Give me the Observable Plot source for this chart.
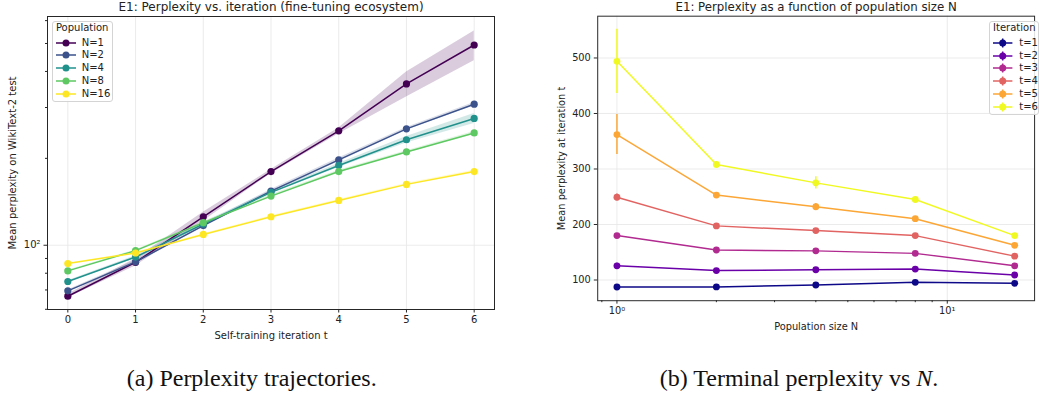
<!DOCTYPE html>
<html>
<head>
<meta charset="utf-8">
<script src="https://cdn.jsdelivr.net/npm/d3@7"></script>
<script src="https://cdn.jsdelivr.net/npm/@observablehq/plot@0.6"></script>
<style>
  html, body { margin: 0; padding: 0; background: #fff; }
  body { width: 1040px; height: 398px; overflow: hidden; position: relative; font-family: "DejaVu Sans", sans-serif; }
  .panel { position: absolute; top: 0; }
  .legend { position: absolute; box-sizing: border-box; border: 1px solid #d4d4d4; border-radius: 3px; background: rgba(255,255,255,0.85); font-family: "DejaVu Sans", sans-serif; font-size: 10px; color: #222; }
  .legend .ttl { position: absolute; left: 0; right: 0; text-align: center; line-height: 12px; }
  .legend .row { position: absolute; left: 0; height: 12px; line-height: 12px; white-space: nowrap; }
  .legend svg { position: absolute; top: 0; }
  .legend .lab { position: absolute; top: 0; }
  .caption { position: absolute; top: 366px; transform: translateX(-50%); font-family: "Liberation Serif", "Times New Roman", serif; font-size: 24px; line-height: 24px; color: #111; white-space: nowrap; }
</style>
</head>
<body>
<div id="left" class="panel" style="left:0px"></div>
<div id="right" class="panel" style="left:520px"></div>
<div id="legL" class="legend"></div>
<div id="legR" class="legend"></div>
<div class="caption" style="left:251.7px">(a) Perplexity trajectories.</div>
<div class="caption" style="left:799px">(b) Terminal perplexity vs <i>N</i>.</div>
<script>
// ---------- data ----------
const popSizes = [1, 2, 4, 8, 16];
const iterations = [0, 1, 2, 3, 4, 5, 6];
// mean perplexity per iteration t = 0..6
const pplN1  = [66.6, 87.3, 125.5, 180, 249, 362, 494];
const pplN2  = [69.5, 87.6, 117, 154, 197.5, 253, 308];
const pplN4  = [74.9, 91, 118.5, 152.5, 189, 232, 275];
const pplN8  = [81.5, 95.8, 119.7, 148, 180, 210.5, 245];
const pplN16 = [86.4, 94, 109, 125.5, 143, 162.5, 180];
// std across seeds per iteration t = 0..6
const sdN1  = [1, 2.5, 4.5, 3, 6, 36, 58];
const sdN2  = [0.5, 1, 1.5, 2, 3, 3, 4];
const sdN4  = [0.5, 1, 1.5, 2, 3, 6, 11];
const sdN8  = [0.5, 0.5, 1, 1.5, 2, 2, 3];
const sdN16 = [0.3, 0.5, 0.5, 1, 1, 1.5, 2];
const termIters = [1, 2, 3, 4, 5, 6];

const popLabels = ["N=1", "N=2", "N=4", "N=8", "N=16"];
const iterLabels = ["t=1", "t=2", "t=3", "t=4", "t=5", "t=6"];
const viridis5 = ["#440154", "#3b528b", "#21918c", "#5ec962", "#fde725"];
const plasma6 = ["#0d0887", "#6a00a8", "#b12a90", "#e16462", "#fca636", "#f0f921"];

const leftTicksX = [0, 1, 2, 3, 4, 5, 6];
const leftMajorY = [100];
const leftMinorY = [60, 70, 80, 90, 200, 300, 400, 500, 600];
const rightMajorX = [1, 10];
const rightMinorX = [0.9, 2, 3, 4, 5, 6, 7, 8, 9];
const rightTicksY = [100, 200, 300, 400, 500];

// ---------- tables ----------
const pplByN = [pplN1, pplN2, pplN4, pplN8, pplN16];
const sdByN = [sdN1, sdN2, sdN4, sdN8, sdN16];
const traj = [];
popSizes.forEach((N, i) => iterations.forEach((t, j) => {
  traj.push({N: String(N), t, v: pplByN[i][j], lo: pplByN[i][j] - sdByN[i][j], hi: pplByN[i][j] + sdByN[i][j]});
}));
const term = [];
termIters.forEach(t => popSizes.forEach((N, i) => {
  const v = pplByN[i][t], s = sdByN[i][t];
  term.push({t: String(t), N, v, lo: v - s, hi: v + s});
}));

const gridColor = "#e6e6e6";
const frameColor = "#262626";
const style = {fontFamily: "DejaVu Sans", fontSize: "10px", color: "#222", background: "transparent", overflow: "visible"};

// ---------- left chart ----------
const left = Plot.plot({
  width: 520, height: 345,
  marginLeft: 47, marginRight: 26, marginTop: 16, marginBottom: 36,
  style,
  x: {domain: [-0.3, 6.3]},
  y: {type: "log", domain: [59.9, 620]},
  color: {type: "ordinal", domain: popSizes.map(String), range: viridis5},
  marks: [
    Plot.gridX(leftTicksX, {stroke: gridColor, strokeOpacity: 1, strokeWidth: 0.8}),
    Plot.gridY(leftMajorY, {stroke: gridColor, strokeOpacity: 1, strokeWidth: 0.8}),
    Plot.areaY(traj, {x: "t", y1: "lo", y2: "hi", z: "N", fill: "N", fillOpacity: 0.2}),
    Plot.line(traj, {x: "t", y: "v", z: "N", stroke: "N", strokeWidth: 1.5}),
    Plot.dot(traj, {x: "t", y: "v", fill: "N", r: 3.6}),
    Plot.frame({stroke: frameColor, strokeWidth: 1}),
    Plot.axisX(leftTicksX, {tickSize: 3.5, tickPadding: 3, label: null, stroke: frameColor}),
    Plot.axisY(leftMajorY, {tickSize: 3.5, tickPadding: 3.5, tickFormat: () => "10²", label: null, stroke: frameColor}),
    Plot.axisY(leftMinorY, {tickSize: 2, tickFormat: () => "", label: null, stroke: frameColor}),
    Plot.text(["Self-training iteration t"], {frameAnchor: "bottom", dy: 26, lineAnchor: "middle", textAnchor: "middle", text: d => d}),
    Plot.text(["Mean perplexity on WikiText-2 test"], {frameAnchor: "left", dx: -35, rotate: -90, lineAnchor: "middle", textAnchor: "middle", text: d => d}),
    Plot.text(["E1: Perplexity vs. iteration (fine-tuning ecosystem)"], {frameAnchor: "top", dy: -9.5, lineAnchor: "middle", textAnchor: "middle", fontSize: 12, text: d => d})
  ]
});
document.getElementById("left").appendChild(left);

// ---------- right chart ----------
const right = Plot.plot({
  width: 530, height: 345,
  marginLeft: 78.7, marginRight: 6, marginTop: 16, marginBottom: 39,
  style,
  x: {type: "log", domain: [0.8745, 18.38]},
  y: {domain: [62.7, 575.3]},
  color: {type: "ordinal", domain: termIters.map(String), range: plasma6},
  marks: [
    Plot.gridX(rightMajorX, {stroke: gridColor, strokeOpacity: 1, strokeWidth: 0.8}),
    Plot.gridY(rightTicksY, {stroke: gridColor, strokeOpacity: 1, strokeWidth: 0.8}),
    Plot.ruleX(term, {x: "N", y1: "lo", y2: "hi", stroke: "t", strokeWidth: 1.5}),
    Plot.line(term, {x: "N", y: "v", z: "t", stroke: "t", strokeWidth: 1.5}),
    Plot.dot(term, {x: "N", y: "v", fill: "t", r: 3.5}),
    Plot.frame({stroke: frameColor, strokeWidth: 1}),
    Plot.axisX(rightMajorX, {tickSize: 3.5, tickPadding: 3, tickFormat: d => d === 1 ? "10⁰" : "10¹", label: null, stroke: frameColor}),
    Plot.axisX(rightMinorX, {tickSize: 2, tickFormat: () => "", label: null, stroke: frameColor}),
    Plot.axisY(rightTicksY, {tickSize: 3.5, tickPadding: 3.5, label: null, stroke: frameColor}),
    Plot.text(["Population size N"], {frameAnchor: "bottom", dy: 26.7, lineAnchor: "middle", textAnchor: "middle", text: d => d}),
    Plot.text(["Mean perplexity at iteration t"], {frameAnchor: "left", dx: -37, rotate: -90, lineAnchor: "middle", textAnchor: "middle", text: d => d}),
    Plot.text(["E1: Perplexity as a function of population size N"], {frameAnchor: "top", dy: -9.5, lineAnchor: "middle", textAnchor: "middle", fontSize: 12, text: d => d})
  ]
});
document.getElementById("right").appendChild(right);

// ---------- legends ----------
function buildLegend(el, box, title, labels, colors, errbar) {
  Object.assign(el.style, {left: box.left + "px", top: box.top + "px", width: box.width + "px", height: box.height + "px"});
  const ttl = document.createElement("div");
  ttl.className = "ttl";
  ttl.style.top = (box.titleY - box.top - 6 - 1) + "px";
  ttl.textContent = title;
  el.appendChild(ttl);
  labels.forEach((lab, i) => {
    const row = document.createElement("div");
    row.className = "row";
    row.style.top = (box.rowY0 + i * box.rowStep - box.top - 6 - 1) + "px";
    row.style.width = box.width + "px";
    const ns = "http://www.w3.org/2000/svg";
    const svg = document.createElementNS(ns, "svg");
    svg.setAttribute("width", 24); svg.setAttribute("height", 12);
    svg.style.left = (box.handleX - box.left - 1) + "px";
    const ln = document.createElementNS(ns, "line");
    ln.setAttribute("x1", 0); ln.setAttribute("x2", box.handleW); ln.setAttribute("y1", 6); ln.setAttribute("y2", 6);
    ln.setAttribute("stroke", colors[i]); ln.setAttribute("stroke-width", 1.5);
    svg.appendChild(ln);
    if (errbar) {
      const vb = document.createElementNS(ns, "line");
      vb.setAttribute("x1", box.handleW / 2); vb.setAttribute("x2", box.handleW / 2); vb.setAttribute("y1", 1.5); vb.setAttribute("y2", 10.5);
      vb.setAttribute("stroke", colors[i]); vb.setAttribute("stroke-width", 1.5);
      svg.appendChild(vb);
    }
    const c = document.createElementNS(ns, "circle");
    c.setAttribute("cx", box.handleW / 2); c.setAttribute("cy", 6); c.setAttribute("r", 3.5); c.setAttribute("fill", colors[i]);
    svg.appendChild(c);
    row.appendChild(svg);
    const t = document.createElement("span");
    t.className = "lab";
    t.style.left = (box.textX - box.left - 1) + "px";
    t.textContent = lab;
    row.appendChild(t);
    el.appendChild(row);
  });
}
buildLegend(document.getElementById("legL"),
  {left: 51.7, top: 20.7, width: 61, height: 81, titleY: 28.3, rowY0: 42.7, rowStep: 12.8, handleX: 56, handleW: 20, textX: 81.7},
  "Population", popLabels, viridis5, false);
buildLegend(document.getElementById("legR"),
  {left: 989.3, top: 21, width: 50, height: 94, titleY: 28.3, rowY0: 42.7, rowStep: 12.8, handleX: 993.3, handleW: 19.4, textX: 1019.3},
  "Iteration", iterLabels, plasma6, true);
</script>
</body>
</html>
